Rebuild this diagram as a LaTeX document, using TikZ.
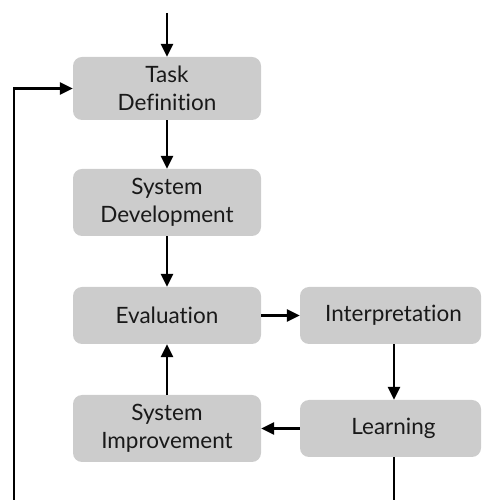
\documentclass[tikz,border=0pt]{standalone}
\usepackage{fontspec}
\setmainfont{Lato}[Ligatures=NoCommon]
\usetikzlibrary{arrows.meta,calc}
\definecolor{boxgray}{RGB}{204,204,204}
\begin{document}
\begin{tikzpicture}[x=1pt,y=1pt,
  stepbox/.style={fill=boxgray, rounded corners=9pt, align=center, inner sep=0pt,
    font=\fontsize{22.5}{28}\selectfont, text=black!90},
  flow/.style={line width=2.8pt, -{Triangle[length=13pt,width=12pt]}},
  line/.style={line width=2.8pt}]
\clip (0,0) rectangle (482,500);
\node[stepbox, minimum width=188pt, minimum height=63pt] (task) at (167,411.5) {Task\\Definition};
\node[stepbox, minimum width=188pt, minimum height=67pt] (dev) at (167,297.5) {System\\Development};
\node[stepbox, minimum width=188pt, minimum height=57pt] (eval) at (167,184.5) {Evaluation};
\node[stepbox, minimum width=181pt, minimum height=57pt] (interp) at (390.5,184.5) {\hspace{6pt}Interpretation};
\node[stepbox, minimum width=181pt, minimum height=57pt] (learn) at (390.5,71.5) {\hspace{6pt}Learning};
\node[stepbox, minimum width=188pt, minimum height=67pt] (imp) at (167,71.5) {System\\Improvement};
\coordinate (start) at (167,487);
\coordinate (below) at (394,-30);
\draw[flow] (start) -- (task.north);
\draw[flow] (task.south) -- (dev.north);
\draw[flow] (dev.south) -- (eval.north);
\draw[flow] (eval.east) -- (interp.west);
\draw[flow] ([xshift=3.5pt]interp.south) -- ([xshift=3.5pt]learn.north);
\draw[flow] (learn.west) -- (imp.east);
\draw[flow] (imp.north) -- (eval.south);
\draw[flow] ([xshift=3.5pt]learn.south) -- (below) -| (14,300) |- (task.west);
\end{tikzpicture}
\end{document}
